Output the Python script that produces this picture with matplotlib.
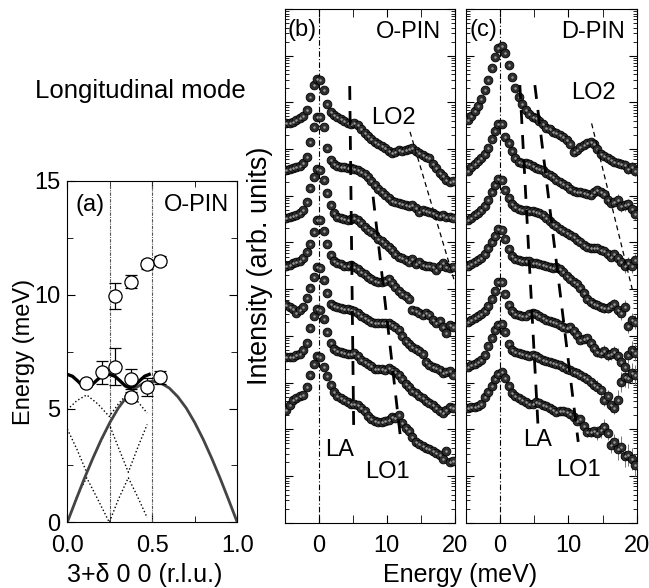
import numpy as np
import matplotlib
matplotlib.use('Agg')
import matplotlib.pyplot as plt
from matplotlib.ticker import LogLocator, NullFormatter, FixedLocator

plt.rcParams['font.family'] = ['Liberation Sans', 'DejaVu Sans']
plt.rcParams['font.size'] = 17

# ---------------- panel (a) data ----------------
q_meas = [0.110, 0.202, 0.281, 0.281, 0.373, 0.373, 0.373, 0.467, 0.467, 0.545, 0.545]
E_meas = [6.11, 6.59, 6.84, 9.95, 10.58, 6.28, 5.52, 11.34, 5.96, 11.49, 6.37]
E_err = [0.12, 0.49, 0.80, 0.56, 0.30, 0.44, 0.20, 0.20, 0.40, 0.20, 0.30]

q_ac = [0, .05, .1, .15, .2, .25, .3, .35, .4, .45, .5, .55, .6, .65, .7, .75, .8, .85, .9, .95, 1.0]
E_ac = [0, .97, 1.92, 2.81, 3.64, 4.38, 5.02, 5.52, 5.90, 6.12, 6.20, 6.12, 5.90, 5.52, 5.02, 4.38,
        3.64, 2.81, 1.92, .97, 0]

q_opt = [0, .03, .06, .09, .114, .14, .17, .2, .247, .28, .31, .34, .369, .395, .425, .455, .482]
E_opt = [6.5, 6.42, 6.22, 6.0, 5.9, 6.0, 6.22, 6.42, 6.5, 6.42, 6.22, 6.0, 5.9, 6.0, 6.22, 6.42, 6.5]

q_fold = [0, .057, .114, .18, .247, .30, .359, .415, .47]
E_fold1 = [0, 1.15, 1.96, 1.0, 0, 1.0, 1.96, 1.1, 0.2]
E_fold2 = [4.1, 3.2, 2.2, 3.3, 4.3, 3.3, 2.2, 3.3, 4.3]
E_fold3 = [4.95, 5.35, 5.6, 5.2, 4.65, 5.2, 5.7, 5.3, 4.8]
q_zone = [0.25, 0.5]

# ---------------- panels (b) and (c): log10 intensity, bottom -> top ----------------
E_grid = np.arange(-4.75, 19.76, 0.5)

b_spectra = [
    [2.41, 2.52, 2.63, 2.67, 2.71, 2.73, 2.90, 3.16, 3.40, 3.57,
     3.55, 3.34, 3.14, 2.95, 2.80, 2.71, 2.67, 2.63, 2.58, 2.54,
     2.54, 2.52, 2.46, 2.39, 2.28, 2.22, 2.18, 2.16, 2.16, 2.18,
     2.20, 2.26, 2.24, 2.31, 2.14, 2.03, 1.96, 1.84, 1.73, 1.68,
     1.64, 1.60, 1.58, 1.53, 1.49, 1.45, 1.36, 1.53, 1.30, 1.32],
    [3.55, 3.55, 3.55, 3.59, 3.61, 3.70, 3.85, 4.17, 4.42, 4.57,
     4.55, 4.36, 4.08, 3.85, 3.72, 3.68, 3.66, 3.64, 3.61, 3.61,
     3.64, 3.57, 3.48, 3.44, 3.40, 3.36, 3.29, 3.29, 3.29, 3.27,
     3.31, 3.27, 3.23, 3.16, 3.08, 2.97, 2.91, 2.82, 2.78, 2.71,
     2.67, 2.61, 2.56, 2.52, 2.46, 2.39, 2.35, 2.41, 2.48, 2.46],
    [4.66, 4.62, 4.57, 4.49, 4.55, 4.62, 4.81, 5.02, 5.26, 5.47,
     5.45, 5.19, 4.92, 4.68, 4.64, 4.62, 4.60, 4.57, 4.57, 4.55,
     4.53, 4.49, 4.42, 4.38, 4.34, 4.29, 4.28, 4.28, 4.28, 4.28,
     4.28, 4.23, 4.19, 4.12, 4.00, 3.89, 3.83, 3.77, 3.72, 3.68,
     3.62, 3.45, 3.38, 3.34, 3.32, 3.28, 3.21, 3.23, 3.25, 3.16],
    [5.49, 5.52, 5.56, 5.58, 5.60, 5.67, 5.79, 5.97, 6.22, 6.48,
     6.48, 6.24, 5.97, 5.73, 5.60, 5.56, 5.54, 5.49, 5.49, 5.52,
     5.47, 5.43, 5.36, 5.32, 5.26, 5.21, 5.18, 5.15, 5.15, 5.18,
     5.21, 5.13, 5.05, 4.96, 4.89, 4.85, 4.79, 4.55, 4.53, 4.49,
     4.45, 4.49, 4.45, 4.34, 4.28, 4.32, 4.19, 4.06, 4.23, 4.19],
    [6.52, 6.54, 6.57, 6.59, 6.63, 6.69, 6.87, 7.17, 7.40, 7.57,
     7.55, 7.34, 7.06, 6.80, 6.63, 6.54, 6.52, 6.50, 6.48, 6.50,
     6.52, 6.48, 6.41, 6.33, 6.26, 6.22, 6.16, 6.07, 6.03, 5.97,
     5.90, 5.84, 5.75, 5.69, 5.67, 5.62, 5.58, 5.65, 5.54, 5.58,
     5.52, 5.49, 5.49, 5.47, 5.41, 5.49, 5.56, 5.47, 5.45, 5.47],
    [7.55, 7.57, 7.59, 7.61, 7.64, 7.70, 7.83, 8.15, 8.47, 8.69,
     8.69, 8.47, 8.02, 7.77, 7.68, 7.64, 7.61, 7.61, 7.59, 7.59,
     7.57, 7.55, 7.51, 7.46, 7.40, 7.31, 7.23, 7.14, 7.08, 7.01,
     6.95, 6.89, 6.87, 6.84, 6.82, 6.80, 6.78, 6.80, 6.73, 6.65,
     6.69, 6.67, 6.65, 6.63, 6.59, 6.57, 6.59, 6.54, 6.54, 6.52],
    [8.56, 8.56, 8.58, 8.62, 8.66, 8.71, 8.84, 9.12, 9.37, 9.50,
     9.48, 9.26, 8.97, 8.80, 8.73, 8.69, 8.64, 8.60, 8.56, 8.54,
     8.56, 8.52, 8.43, 8.34, 8.28, 8.21, 8.15, 8.10, 8.06, 8.02,
     7.95, 7.91, 7.93, 7.98, 7.95, 7.98, 8.00, 8.02, 7.95, 7.91,
     7.87, 7.83, 7.81, 7.68, 7.59, 7.49, 7.42, 7.34, 7.29, 7.32],
]

c_spectra = [
    [2.46, 2.48, 2.48, 2.50, 2.54, 2.69, 2.80, 2.92, 3.08, 3.18,
     3.22, 3.10, 2.92, 2.78, 2.71, 2.67, 2.63, 2.58, 2.54, 2.54,
     2.58, 2.56, 2.52, 2.50, 2.46, 2.41, 2.37, 2.39, 2.39, 2.37,
     2.33, 2.26, 2.18, 2.22, 2.07, 1.94, 1.94, 1.96, 1.92, 1.98,
     2.05, 1.92, 1.66, 1.73, 1.58, 1.62, 1.43, 1.45, 1.36, 1.24],
    [3.33, 3.38, 3.40, 3.44, 3.48, 3.59, 3.78, 3.95, 4.12, 4.23,
     4.25, 4.08, 3.82, 3.70, 3.66, 3.64, 3.61, 3.59, 3.57, 3.59,
     3.57, 3.53, 3.48, 3.46, 3.44, 3.42, 3.40, 3.38, 3.33, 3.29,
     3.27, 3.23, 3.21, 3.16, 3.12, 3.08, 3.01, 2.95, 2.91, 2.84,
     2.63, 2.71, 2.52, 2.46, 2.63, 3.01, 3.12, 3.10, 3.21, 3.16],
    [4.29, 4.34, 4.38, 4.42, 4.47, 4.53, 4.64, 4.79, 4.96, 5.15,
     5.15, 4.89, 4.66, 4.53, 4.47, 4.45, 4.42, 4.42, 4.47, 4.49,
     4.47, 4.42, 4.38, 4.34, 4.32, 4.29, 4.28, 4.23, 4.19, 4.16,
     4.19, 4.10, 4.02, 3.91, 3.93, 3.95, 3.85, 3.74, 3.66, 3.64,
     3.68, 3.59, 3.61, 3.66, 3.57, 3.44, 3.34, 3.59, 3.70, 3.64],
    [5.49, 5.54, 5.58, 5.62, 5.67, 5.75, 5.88, 6.01, 6.14, 6.28,
     6.26, 6.07, 5.86, 5.71, 5.64, 5.62, 5.60, 5.60, 5.60, 5.56,
     5.56, 5.54, 5.52, 5.49, 5.47, 5.45, 5.47, 5.43, 5.36, 5.28,
     5.21, 5.15, 5.11, 5.02, 4.92, 4.79, 4.72, 4.68, 4.66, 4.62,
     4.60, 4.60, 4.64, 4.68, 4.55, 4.49, 4.62, 4.21, 4.34, 4.29],
    [6.48, 6.52, 6.58, 6.63, 6.69, 6.78, 6.91, 7.08, 7.23, 7.36,
     7.34, 7.12, 6.95, 6.82, 6.76, 6.71, 6.69, 6.69, 6.67, 6.67,
     6.65, 6.63, 6.58, 6.52, 6.46, 6.39, 6.35, 6.28, 6.24, 6.20,
     6.16, 6.11, 6.05, 6.01, 5.94, 5.90, 5.88, 5.88, 5.88, 5.84,
     5.82, 5.75, 5.69, 5.75, 5.67, 5.58, 5.49, 5.56, 5.49, 5.62],
    [7.53, 7.62, 7.68, 7.74, 7.81, 7.89, 8.02, 8.21, 8.38, 8.54,
     8.54, 8.26, 8.13, 7.96, 7.81, 7.72, 7.70, 7.70, 7.68, 7.64,
     7.59, 7.57, 7.55, 7.48, 7.44, 7.40, 7.33, 7.29, 7.25, 7.21,
     7.14, 7.10, 7.08, 7.08, 7.06, 7.04, 7.01, 7.08, 7.12, 7.08,
     7.04, 6.91, 6.84, 6.86, 6.91, 6.78, 6.80, 6.82, 6.71, 6.62],
    [8.62, 8.71, 8.81, 8.92, 9.07, 9.26, 9.48, 9.74, 9.97, 10.16,
     10.21, 10.05, 9.80, 9.54, 9.31, 9.11, 8.96, 8.84, 8.75, 8.68,
     8.66, 8.60, 8.54, 8.45, 8.43, 8.36, 8.34, 8.30, 8.26, 8.19,
     8.11, 7.94, 7.98, 8.04, 8.08, 8.13, 8.15, 8.11, 8.00, 7.89,
     7.85, 7.81, 7.76, 7.72, 7.70, 7.68, 7.66, 7.57, 7.62, 7.53],
]

# error bars of panel (c), in decades, per energy point; and per-spectrum scale
c_err = [0.02] * 14 + [0.04] * 16 + [0.06] * 8 + [0.10] * 6 + [0.15] * 6
c_err_scale = [1.6, 1.4, 1.2, 1.0, 0.9, 0.8, 0.7]

# dispersion guide lines (E, log10 I)
b_LA = ([4.56, 5.15], [9.35, 1.92])
b_LO1 = ([7.99, 12.1], [6.98, 1.70])
b_LO2 = ([13.4, 20.0], [8.37, 5.13])
c_LA = ([2.89, 5.57], [9.37, 2.02])
c_LO1 = ([5.09, 11.44], [9.37, 1.73])
c_LO2 = ([13.4, 19.5], [8.55, 4.91])

fig = plt.figure(figsize=(6.49, 5.88), dpi=100)
axa = fig.add_axes([0.1037, 0.1117, 0.2619, 0.5805])
axb = fig.add_axes([0.4384, 0.1111, 0.2627, 0.8736])
axc = fig.add_axes([0.7180, 0.1111, 0.2630, 0.8736])

# ---- (a)
for qz in q_zone:
    axa.axvline(qz, color='#555555', lw=0.8, ls=(0, (3, 1, 1, 1)))
axa.plot(q_fold, E_fold1, ls=':', color='black', lw=1.0)
axa.plot(q_fold, E_fold2, ls=':', color='black', lw=1.0)
axa.plot(q_fold, E_fold3, ls=':', color='black', lw=1.0)
axa.plot(q_ac, E_ac, color='#444444', lw=2.0)
axa.plot(q_opt, E_opt, color='black', lw=2.4)
axa.errorbar(q_meas, E_meas, yerr=E_err, fmt='o', ms=9.5, mfc='white', mec='black', mew=0.9,
             ecolor='black', elinewidth=0.9, capsize=4, capthick=0.9, zorder=5)
axa.set_xlim(0, 1)
axa.set_ylim(0, 15)
axa.xaxis.set_major_locator(FixedLocator([0, 0.5, 1.0]))
axa.xaxis.set_minor_locator(FixedLocator([0.25, 0.75]))
axa.yaxis.set_major_locator(FixedLocator([0, 5, 10, 15]))
axa.yaxis.set_minor_locator(FixedLocator([2.5, 7.5, 12.5]))
axa.set_xticklabels(['0.0', '0.5', '1.0'])
axa.tick_params(which='both', direction='in', top=True, right=True)
axa.tick_params(which='major', length=6)
axa.tick_params(which='minor', length=4)
axa.tick_params(axis='x', pad=9)
axa.tick_params(axis='y', pad=5)
axa.set_ylabel('Energy (meV)', labelpad=-1)
fig.text(0.2235, 0.022, '3+δ 0 0 (r.l.u.)', ha='center', va='center', fontsize=18)
axa.text(0.05, 0.93, '(a)', transform=axa.transAxes, va='center', ha='left')
axa.text(0.95, 0.93, 'O-PIN', transform=axa.transAxes, va='center', ha='right')
fig.text(0.217, 0.845, 'Longitudinal mode', ha='center', va='center', fontsize=18.5)


def spectra_panel(ax, spectra, guides, thin_guide, errs=None):
    ax.axvline(0, color='black', lw=0.8, ls=(0, (5, 2, 1, 2)))
    for k, sp in enumerate(spectra):
        y = 10 ** np.array(sp)
        if errs is not None:
            e = np.array(errs) * c_err_scale[k]
            lo = y * (1 - 10 ** (-e))
            hi = y * (10 ** e - 1)
            ax.errorbar(E_grid, y, yerr=[lo, hi], fmt='none', ecolor='#777777', elinewidth=0.7, zorder=2)
        ax.plot(E_grid, y, 'o', ms=6.3, mfc='#2e2e2e', mec='black', mew=0.6, zorder=3)
        ax.plot(E_grid, y, 'o', ms=1.8, mfc='#9a9a9a', mec='none', zorder=3.5)
    for g in guides:
        ax.plot(g[0], 10 ** np.array(g[1]), color='black', lw=2.0, ls=(0, (5, 4)), zorder=4)
    ax.plot(thin_guide[0], 10 ** np.array(thin_guide[1]), color='black', lw=0.9, ls=(0, (4, 3)), zorder=4)
    ax.set_yscale('log')
    ax.set_ylim(1, 1e11)
    ax.set_xlim(-5, 20)
    ax.yaxis.set_major_locator(LogLocator(base=10, numticks=20))
    ax.yaxis.set_minor_locator(LogLocator(base=10, subs=np.arange(2, 10), numticks=200))
    ax.yaxis.set_major_formatter(NullFormatter())
    ax.yaxis.set_minor_formatter(NullFormatter())
    ax.xaxis.set_major_locator(FixedLocator([0, 10, 20]))
    ax.xaxis.set_minor_locator(FixedLocator([5, 15]))
    ax.tick_params(which='both', direction='in', top=True, right=True)
    ax.tick_params(which='major', length=6)
    ax.tick_params(axis='x', which='minor', length=6)
    ax.tick_params(axis='y', which='minor', length=3)
    ax.tick_params(axis='x', pad=9)


spectra_panel(axb, b_spectra, [b_LA, b_LO1], b_LO2)
spectra_panel(axc, c_spectra, [c_LA, c_LO1], c_LO2, errs=c_err)

axb.set_ylabel('Intensity (arb. units)', labelpad=5, fontsize=19.5)
axb.text(0.02, 0.96, '(b)', transform=axb.transAxes, va='center', ha='left')
axb.text(0.92, 0.955, 'O-PIN', transform=axb.transAxes, va='center', ha='right')
axb.text(11.0, 10 ** 8.67, 'LO2', ha='center', va='center')
axb.text(0.9, 10 ** 1.56, 'LA', ha='left', va='center')
axb.text(10.1, 10 ** 1.08, 'LO1', ha='center', va='center')

axc.text(0.02, 0.96, '(c)', transform=axc.transAxes, va='center', ha='left')
axc.text(0.93, 0.955, 'D-PIN', transform=axc.transAxes, va='center', ha='right')
axc.text(13.7, 10 ** 9.2, 'LO2', ha='center', va='center')
axc.text(5.5, 10 ** 1.77, 'LA', ha='center', va='center')
axc.text(11.4, 10 ** 1.12, 'LO1', ha='center', va='center')

fig.text(0.709, 0.022, 'Energy (meV)', ha='center', va='center', fontsize=18)

fig.savefig('out.png', dpi=100)
